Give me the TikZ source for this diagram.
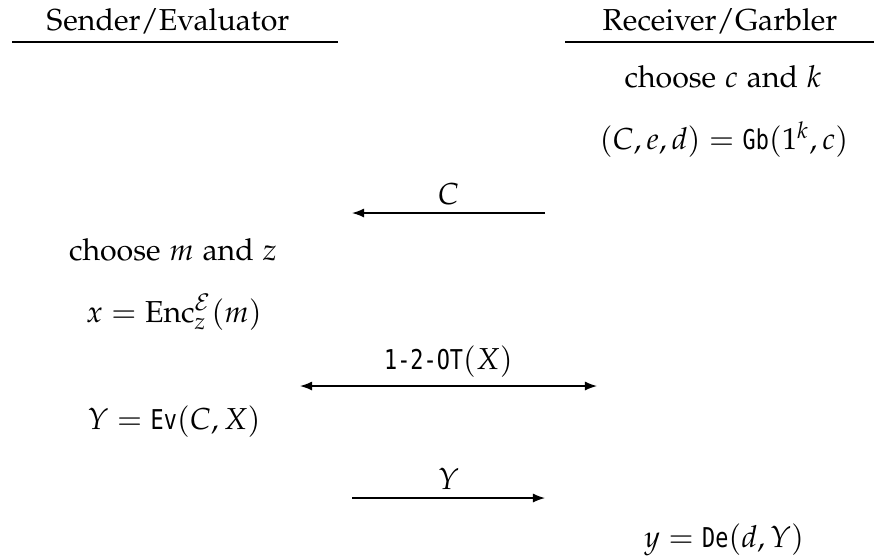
\documentclass[tikz,border=0pt]{standalone}
\usepackage{fontspec}
\newfontfamily\monof[Scale=0.9,FakeStretch=0.8]{DejaVu Sans Mono}
\usepackage[T1]{fontenc}
\usepackage[sc]{mathpazo}
\usetikzlibrary{arrows.meta}
\newcommand{\mtt}[1]{\mbox{\monof #1}}
\begin{document}
\begin{tikzpicture}[x=0.33pt,y=-0.33pt,
  txt/.style={inner sep=0pt,font=\fontsize{10}{12}\selectfont},
  rulel/.style={line width=0.5pt},
  msg/.style={line width=0.45pt,-{Latex[length=4pt,width=3pt]}},
  msgb/.style={line width=0.45pt,{Latex[length=4pt,width=3pt]}-{Latex[length=4pt,width=3pt]}},
  lab/.style={above=2.5pt,inner sep=0pt,font=\fontsize{10}{12}\selectfont}]
\useasboundingbox (0,0) rectangle (874,556);
% headers
\node[txt] (send) at (168,21) {Sender/Evaluator};
\node[txt] (recv) at (720,21) {Receiver/Garbler};
\coordinate (s1) at (12,42); \coordinate (s2) at (338,42);
\coordinate (r1) at (565,42); \coordinate (r2) at (874,42);
\draw[rulel] (s1) -- (s2);
\draw[rulel] (r1) -- (r2);
% receiver steps
\node[txt] (chk) at (723,77) {choose $c$ and $k$};
\node[txt] (gb) at (724,140) {$(C,e,d)=\mtt{Gb}(1^k,c)$};
% C message
\coordinate (cR) at (545,213); \coordinate (cL) at (352,213);
\draw[msg] (cR) -- node[lab] {$C$} (cL);
% sender steps
\node[txt] (chm) at (173,250) {choose $m$ and $z$};
\node[txt] (enc) at (174,312) {$x=\mathrm{Enc}^{\mathcal{E}}_{z}(m)$};
% OT
\coordinate (oL) at (300,386); \coordinate (oR) at (597,386);
\draw[msgb] (oL) -- node[lab] {$\mtt{1-2-OT}(X)$} (oR);
\node[txt] (ev) at (174,422) {$Y=\mtt{Ev}(C,X)$};
% Y message
\coordinate (yL) at (352,498); \coordinate (yR) at (545,498);
\draw[msg] (yL) -- node[lab] {$Y$} (yR);
\node[txt] (de) at (724,540) {$y=\mtt{De}(d,Y)$};
\end{tikzpicture}
\end{document}
